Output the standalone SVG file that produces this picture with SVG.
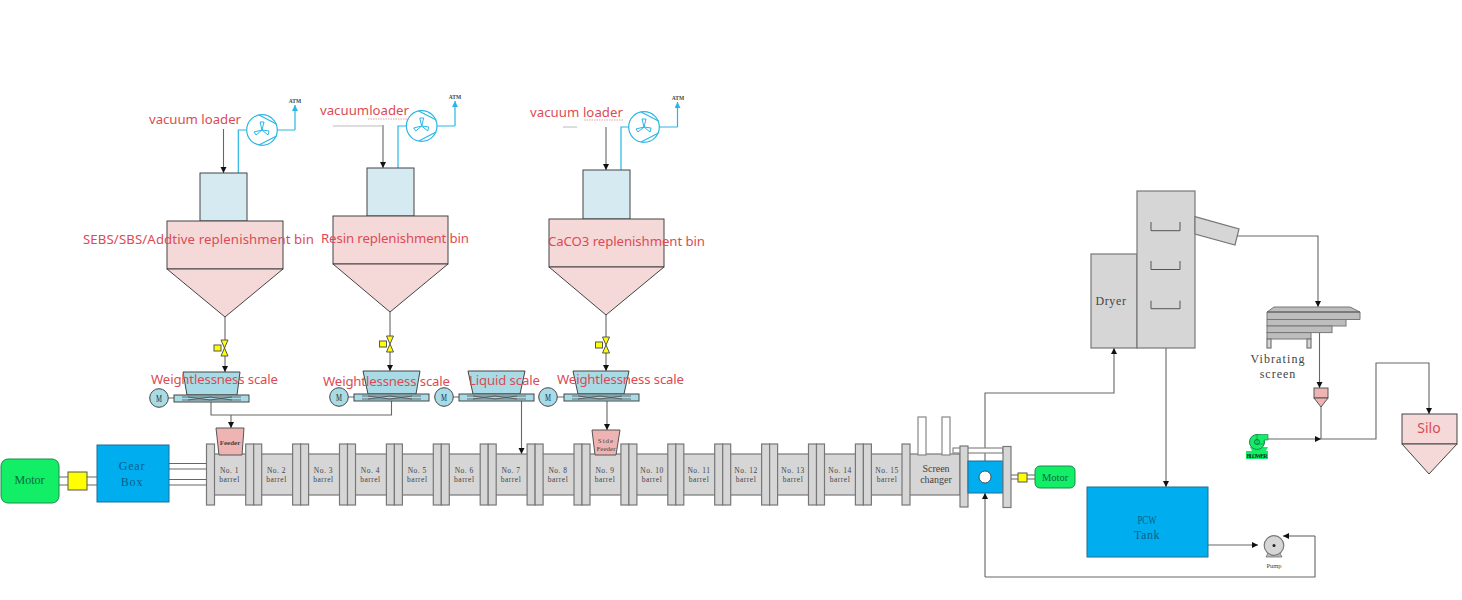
<svg xmlns="http://www.w3.org/2000/svg" xmlns:xlink="http://www.w3.org/1999/xlink" width="1462" height="600" viewBox="0 0 1462 600">
<style>
.g{fill:#d6d6d6;stroke:#777;stroke-width:1.2}
.w{fill:#fff;stroke:#888;stroke-width:1.2}
.pk{fill:#f5d8d8;stroke:#444;stroke-width:1}
.lb{fill:#d6eaf2;stroke:#444;stroke-width:1}
.sc{fill:#a9dbe6;stroke:#444;stroke-width:1}
.bl{fill:#00aeef;stroke:#1f6f96;stroke-width:1}
.gr{fill:#12ee66;stroke:#1a8a4a;stroke-width:1}
.y{fill:#ffff00;stroke:#555;stroke-width:1}
.fd{fill:#eeb4b4;stroke:#555;stroke-width:1}
.c{fill:none;stroke:#666;stroke-width:1.1}
.a{fill:none;stroke:#666;stroke-width:1.1;marker-end:url(#arr)}
.cy{fill:none;stroke:#29b6e6;stroke-width:1.2}
.t{font-family:"Liberation Serif",serif;text-anchor:middle;fill:#444}
.b{font-size:7.5px;letter-spacing:.5px}
.r{font-family:"Noto Sans","Open Sans",sans-serif;font-size:13.2px;fill:#dc4a55}
.m{font-family:"Liberation Serif",serif;text-anchor:middle}
</style>
<defs>
<marker id="arr" markerUnits="userSpaceOnUse" markerWidth="7" markerHeight="7" refX="6" refY="3" orient="auto"><path d="M0 0L6 3L0 6z" fill="#111"/></marker>
<marker id="arc" markerUnits="userSpaceOnUse" markerWidth="7" markerHeight="7" refX="6" refY="3" orient="auto"><path d="M0 0L6 3L0 6z" fill="#29b6e6"/></marker>
<g id="pair"><rect class="g" x="0" y="0" width="8" height="61"/><rect class="g" x="8" y="0" width="8" height="61"/></g>
<g id="fan"><circle r="15.3" fill="#fff" stroke="#29b6e6" stroke-width="1.2"/><path d="M-3-15L14.5-6M-3 15L14.5 6" class="cy"/><path d="M0 0L-2-8L2-8ZM0 0L7 1L6 5ZM0 0L-6 5L-8 2Z" fill="none" stroke="#29b6e6" stroke-width="1"/></g>
<g id="valve"><rect class="y" x="-10.500" y="-3" width="7" height="6"/><path class="y" d="M-3.500-8H3.500L-3.500 8H3.500Z"/></g>
<g id="belt"><rect class="sc" x="0" y="0" width="75" height="7"/><path d="M8 2H67M8 5H67M14 2L36 5L58 2M14 5L36 2L58 5" fill="none" stroke="#444" stroke-width=".7"/></g>
<g id="mot"><circle r="9.300" class="sc"/><text class="m" y="4" font-size="11" fill="#234" textLength="6" lengthAdjust="spacingAndGlyphs" x="-3" style="text-anchor:start">M</text></g>
</defs>

<g id="connectors">
<path class="a" d="M223.500 129V173"/>
<path class="a" d="M383 125V168"/>
<path class="a" d="M606 127V170"/>
<path d="M333 126H383M563 127H577" fill="none" stroke="#bbb" stroke-width="1"/>
<path class="cy" d="M238.300 173V130H246M277 130H295"/><path class="cy" style="marker-end:url(#arc)" d="M295 130V105"/>
<path class="cy" d="M398 168V126H406M437 126H455"/><path class="cy" style="marker-end:url(#arc)" d="M455 126V101"/>
<path class="cy" d="M621 170V127H629M659 127H677.500"/><path class="cy" style="marker-end:url(#arc)" d="M677.500 127V102"/>
<path class="c" d="M225 317V340"/><path class="a" d="M225 356V372"/>
<path class="c" d="M390 312V336"/><path class="a" d="M390 352V371"/>
<path class="c" d="M606 315V337"/><path class="a" d="M606 353V371"/>
<path class="c" d="M211 402V415H391.500V401"/>
<path class="a" d="M231 415V428"/>
<path class="a" d="M521.500 401V454"/>
<path class="a" d="M607 401V430"/>
<path class="c" d="M168.300 398H174M348.300 397H354M453.300 397H459M557.300 397H564"/>
<path class="c" d="M59 477H97M59 485H97"/>
<path class="c" d="M169 463.500H207M169 469H207M169 479.500H207M169 485H207"/>
<path class="c" d="M1011 475H1035M1011 479H1035"/>
<path class="a" d="M985 461V393H1114V348"/>
<path class="a" d="M1166 348V487"/>
<path class="a" d="M1237 236H1318V307"/>
<path class="a" d="M1319.500 333V388"/>
<path class="c" d="M1321 407V439"/>
<path class="a" d="M1268 439H1321"/>
<path class="a" d="M1321 439H1376V363H1429V414"/>
<path class="a" d="M1208 545H1258"/>
<path class="a" d="M1315 536H1283"/>
<path class="c" d="M1315 536V577H985"/>
<path class="a" d="M985 577V493"/>
</g>

<g id="loader-1"><use xlink:href="#fan" x="262" y="130"/><text class="t" x="295" y="103" font-size="5.500" font-weight="bold">ATM</text><text class="r" x="149" y="124" textLength="92">vacuum loader</text></g>
<g id="bin-1"><rect class="lb" x="200" y="173" width="47" height="48"/><rect class="pk" x="167" y="221" width="116" height="48"/><path class="pk" d="M167 269H283L225 317Z"/><text class="r" x="83" y="244" textLength="231">SEBS/SBS/Addtive replenishment bin</text></g>
<g id="valve-1"><use xlink:href="#valve" x="224.500" y="348"/></g>
<g id="scale-1"><path class="sc" d="M183 372H240L237 395H187Z"/><use xlink:href="#belt" x="174" y="395"/><use xlink:href="#mot" x="159" y="398"/><text class="r" x="151" y="384" textLength="127">Weightlessness scale</text></g>

<g id="loader-2"><use xlink:href="#fan" x="421.700" y="126"/><text class="t" x="455" y="99" font-size="5.500" font-weight="bold">ATM</text><text class="r" x="320" y="115" textLength="89">vacuumloader</text><path d="M368 119H409" stroke="#e08a90" stroke-width=".8" stroke-dasharray="1.500 1" fill="none"/></g>
<g id="bin-2"><rect class="lb" x="367" y="168" width="47" height="48"/><rect class="pk" x="333" y="216" width="115" height="48"/><path class="pk" d="M333 264H448L390 312Z"/><text class="r" x="321" y="243" textLength="148">Resin replenishment bin</text></g>
<g id="valve-2"><use xlink:href="#valve" x="390" y="344"/></g>
<g id="scale-2"><path class="sc" d="M363 371H420L416 394H368Z"/><use xlink:href="#belt" x="354" y="394"/><use xlink:href="#mot" x="339" y="397"/><text class="r" x="323" y="386" textLength="127">Weightlessness scale</text></g>

<g id="scale-3"><path class="sc" d="M468 371H525L520 394H473Z"/><use xlink:href="#belt" x="459" y="394"/><use xlink:href="#mot" x="444" y="397"/><text class="r" x="469" y="385" textLength="71">Liquid scale</text></g>

<g id="loader-3"><use xlink:href="#fan" x="644" y="127"/><text class="t" x="678" y="100" font-size="5.500" font-weight="bold">ATM</text><text class="r" x="530" y="117" textLength="93">vacuum loader</text><path d="M584 120H623" stroke="#e08a90" stroke-width=".8" stroke-dasharray="1.500 1" fill="none"/></g>
<g id="bin-3"><rect class="lb" x="583" y="170" width="47" height="49"/><rect class="pk" x="549" y="219" width="115" height="48"/><path class="pk" d="M549 267H664L606 315Z"/><text class="r" x="548" y="246" textLength="157">CaCO3 replenishment bin</text></g>
<g id="valve-3"><use xlink:href="#valve" x="606" y="345"/></g>
<g id="scale-4"><path class="sc" d="M573 371H629L624 394H578Z"/><use xlink:href="#belt" x="564" y="394"/><use xlink:href="#mot" x="548" y="397"/><text class="r" x="557" y="384" textLength="127">Weightlessness scale</text></g>

<g id="motor-left"><rect class="gr" x="1" y="459" width="58" height="44" rx="7"/><text class="m" x="29.500" y="484" font-size="12" fill="#0a6a40">Motor</text></g>
<g id="coupling-left"><rect class="y" x="68" y="472" width="19" height="18"/></g>
<g id="gear-box"><rect class="bl" x="97" y="445" width="72" height="57"/><text class="m" x="132" y="470" font-size="12" letter-spacing=".8" fill="#0b5d8a">Gear</text><text class="m" x="132" y="486" font-size="12" letter-spacing=".8" fill="#0b5d8a">Box</text></g>

<g id="extruder">
<rect class="g" x="214" y="454" width="746" height="41"/>
<rect class="g" x="206.500" y="444" width="8" height="61"/>
<use xlink:href="#pair" x="245.700" y="444"/><use xlink:href="#pair" x="292.600" y="444"/><use xlink:href="#pair" x="339.500" y="444"/><use xlink:href="#pair" x="386.400" y="444"/><use xlink:href="#pair" x="433.300" y="444"/><use xlink:href="#pair" x="480.200" y="444"/><use xlink:href="#pair" x="527.100" y="444"/><use xlink:href="#pair" x="574" y="444"/><use xlink:href="#pair" x="620.900" y="444"/><use xlink:href="#pair" x="667.800" y="444"/><use xlink:href="#pair" x="714.700" y="444"/><use xlink:href="#pair" x="761.600" y="444"/><use xlink:href="#pair" x="808.500" y="444"/><use xlink:href="#pair" x="855.400" y="444"/>
<rect class="g" x="902" y="444" width="8" height="61"/>
<g class="t b">
<text x="229.500" y="473">No. 1</text><text x="229.500" y="482">barrel</text>
<text x="276.500" y="473">No. 2</text><text x="276.500" y="482">barrel</text>
<text x="323.400" y="473">No. 3</text><text x="323.400" y="482">barrel</text>
<text x="370.400" y="473">No. 4</text><text x="370.400" y="482">barrel</text>
<text x="417.300" y="473">No. 5</text><text x="417.300" y="482">barrel</text>
<text x="464.300" y="473">No. 6</text><text x="464.300" y="482">barrel</text>
<text x="511" y="473">No. 7</text><text x="511" y="482">barrel</text>
<text x="558" y="473">No. 8</text><text x="558" y="482">barrel</text>
<text x="605" y="473">No. 9</text><text x="605" y="482">barrel</text>
<text x="652" y="473">No. 10</text><text x="652" y="482">barrel</text>
<text x="699" y="473">No. 11</text><text x="699" y="482">barrel</text>
<text x="746" y="473">No. 12</text><text x="746" y="482">barrel</text>
<text x="793" y="473">No. 13</text><text x="793" y="482">barrel</text>
<text x="840" y="473">No. 14</text><text x="840" y="482">barrel</text>
<text x="887" y="473">No. 15</text><text x="887" y="482">barrel</text>
</g>
</g>
<g id="feeder"><path class="fd" d="M216 428H244L242 455H219Z"/><text class="t" x="230" y="444.500" font-size="7" font-weight="bold">Feeder</text></g>
<g id="side-feeder"><path class="fd" d="M592 430H620L616 455H595Z"/><text class="t" x="606" y="443" font-size="7" letter-spacing="1">Side</text><text class="t" x="606" y="451" font-size="7">Feeder</text></g>
<g id="screen-changer"><rect class="w" x="918" y="417" width="8" height="38"/><rect class="w" x="942" y="417" width="8" height="38"/><text class="t" x="936" y="472" font-size="10">Screen</text><text class="t" x="936" y="483" font-size="10">changer</text></g>
<g id="pelletizer"><rect class="w" x="953" y="448" width="50" height="5"/><rect class="g" x="960" y="446" width="8" height="61"/><rect class="bl" x="968" y="461" width="35" height="32"/><circle cx="985" cy="477" r="6" fill="#fff" stroke="#333" stroke-width=".8"/><rect class="g" x="1003" y="446.500" width="8" height="61"/></g>
<g id="coupling-right"><rect class="y" x="1018" y="473" width="9" height="9"/></g>
<g id="motor-right"><rect class="gr" x="1035" y="466" width="40" height="22" rx="5"/><text class="m" x="1055" y="481" font-size="10.500" fill="#0a6a40">Motor</text></g>

<g id="dryer"><rect class="g" x="1091" y="254" width="46" height="94"/><rect class="g" x="1137" y="191" width="58" height="157"/><path class="g" d="M1195 216.700L1239 229L1235 245L1195 234Z"/><path d="M1151 222V230.700H1180V222M1151 261V269.500H1180V261M1151 300.700V308.700H1180V300.700" fill="none" stroke="#555" stroke-width="1"/><text class="t" x="1111" y="305" font-size="12" letter-spacing=".6">Dryer</text></g>
<g id="vibrating-screen"><path d="M1267 312L1274 307H1350L1360 312V319.500H1267Z" fill="#bdbdbd" stroke="#777"/><path d="M1267 312H1360" stroke="#666" stroke-width="1.500"/><rect x="1267" y="319.500" width="79" height="6.500" fill="#bdbdbd" stroke="#777"/><rect x="1267" y="326" width="65" height="6.600" fill="#bdbdbd" stroke="#777"/><rect x="1267" y="332.600" width="44" height="6.400" fill="#bdbdbd" stroke="#777"/><rect class="g" x="1267" y="339" width="4" height="9"/><rect class="g" x="1307" y="339" width="4" height="9"/><text class="t" x="1278" y="363" font-size="12" letter-spacing="1.100">Vibrating</text><text class="t" x="1278" y="378" font-size="12" letter-spacing="1">screen</text></g>
<g id="cyclone"><rect class="fd" x="1314" y="388" width="14" height="10"/><path class="fd" d="M1314 398H1328L1321 407Z"/></g>
<g id="blower"><path d="M1250 447L1252 451H1266L1268 447Z" fill="#12ee66"/><circle cx="1257" cy="442" r="7.500" fill="#12ee66" stroke="#1a8a4a"/><path d="M1257 434.500H1268V440H1264V444H1257Z" fill="#12ee66" stroke="#1a8a4a" stroke-width=".7"/><circle cx="1257" cy="442" r="2.500" fill="none" stroke="#0a5a3a" stroke-width=".8"/><rect x="1246" y="451" width="22" height="8" fill="#12ee66"/><text class="m" x="1257" y="457.500" font-size="6" font-weight="bold" fill="#0a3a2a" textLength="21">BLOWER</text></g>
<g id="silo"><rect class="pk" x="1402" y="414" width="55" height="30"/><path class="pk" d="M1402 444H1457L1429 474Z"/><text x="1429" y="433" text-anchor="middle" font-family="Noto Sans,sans-serif" font-size="14" fill="#dc4a55">Silo</text></g>
<g id="pcw-tank"><rect class="bl" x="1087" y="487" width="121" height="70"/><text class="m" x="1147" y="524" font-size="12" fill="#0b5d8a" textLength="19" lengthAdjust="spacingAndGlyphs">PCW</text><text class="m" x="1147" y="539" font-size="12" letter-spacing=".6" fill="#0b5d8a">Tank</text></g>
<g id="pump"><path d="M1266 557L1268 553H1280L1282 557Z" fill="#bbb" stroke="#666" stroke-width=".7"/><circle cx="1274" cy="545.500" r="9.800" class="g"/><circle cx="1274" cy="545.500" r="1.500" fill="#222"/><text class="t" x="1274" y="568" font-size="6.500">Pump</text></g>
</svg>
